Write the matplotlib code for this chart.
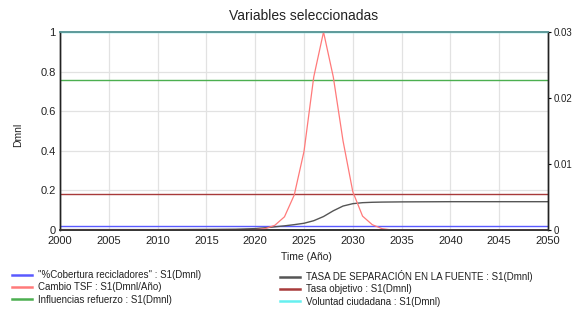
import matplotlib
matplotlib.use("Agg")
import matplotlib.pyplot as plt

plt.rcParams['font.family'] = ['Liberation Sans', 'DejaVu Sans']

# ---- data ----
flat_years = [2000, 2050]
cobertura = [0.02, 0.02]            # "%Cobertura recicladores"
influencias = [0.757, 0.757]        # Influencias refuerzo
tasa_objetivo = [0.182, 0.182]      # Tasa objetivo
voluntad = [1.0, 1.0]               # Voluntad ciudadana

tsf_years = [2000, 2005, 2010, 2015, 2018, 2020, 2021, 2022, 2023, 2024, 2025,
             2026, 2027, 2028, 2029, 2030, 2031, 2032, 2033, 2035, 2040, 2045, 2050]
tasa_sep = [0.002, 0.002, 0.002, 0.003, 0.004, 0.007, 0.011, 0.016, 0.021, 0.027, 0.034,
            0.047, 0.068, 0.097, 0.121, 0.133, 0.138, 0.140, 0.141, 0.142, 0.143, 0.143, 0.143]

cambio_years = [2000, 2010, 2019, 2020, 2021, 2022, 2023, 2024, 2025, 2026, 2027,
                2028, 2029, 2030, 2031, 2032, 2033, 2034, 2040, 2050]
cambio_tsf = [0.0, 0.0, 0.0, 0.00005, 0.0002, 0.0007, 0.0020, 0.0053, 0.0119, 0.0232, 0.0300,
              0.0232, 0.0135, 0.0058, 0.0021, 0.0008, 0.0002, 0.0, 0.0, 0.0]

x_ticks = [2000, 2005, 2010, 2015, 2020, 2025, 2030, 2035, 2040, 2045, 2050]
y_ticks = [0, 0.2, 0.4, 0.6, 0.8, 1]
y_tick_labels = ['0', '0.2', '0.4', '0.6', '0.8', '1']
y2_ticks = [0, 0.01, 0.02, 0.03]
y2_tick_labels = ['0', '0.01', '0.02', '0.03']

labels = ['"%Cobertura recicladores" : S1(Dmnl)',
          'Cambio TSF : S1(Dmnl/Año)',
          'Influencias refuerzo : S1(Dmnl)',
          'TASA DE SEPARACIÓN EN LA FUENTE : S1(Dmnl)',
          'Tasa objetivo : S1(Dmnl)',
          'Voluntad ciudadana : S1(Dmnl)']

c_blue = '#5a5aff'
c_red = '#ff7a7a'
c_green = '#4caf50'
c_black = '#555555'
c_dred = '#a83a3a'
c_cyan = '#66f0f0'

# ---- figure ----
fig = plt.figure(figsize=(5.74, 3.15), dpi=100)
ax = fig.add_axes([60/574, 1-230/315, 488/574, 198/315])
ax2 = ax.twinx()

ax.set_xlim(2000, 2050)
ax.set_ylim(0, 1)
ax2.set_ylim(0, 0.03)

ax.grid(True, color='#e2e2e2', linewidth=0.9)
ax.set_axisbelow(True)

l_blue, = ax.plot(flat_years, cobertura, color=c_blue, lw=1.0)
l_green, = ax.plot(flat_years, influencias, color=c_green, lw=1.0)
l_dred, = ax.plot(flat_years, tasa_objetivo, color=c_dred, lw=1.0)
l_cyan, = ax.plot(flat_years, voluntad, color=c_cyan, lw=1.0, clip_on=False)
l_black, = ax.plot(tsf_years, tasa_sep, color=c_black, lw=1.0)
l_red, = ax2.plot(cambio_years, cambio_tsf, color=c_red, lw=0.9)

ax.set_xticks(x_ticks)
ax.set_xticklabels([str(t) for t in x_ticks], fontsize=8, color='#222222')
ax.set_yticks(y_ticks)
ax.set_yticklabels(y_tick_labels, fontsize=8, color='#222222')
ax2.set_yticks(y2_ticks)
ax2.set_yticklabels(y2_tick_labels, fontsize=7, color='#222222')

ax.tick_params(axis='x', length=0, pad=4)
ax.tick_params(axis='y', length=0, pad=3)
ax2.tick_params(axis='y', length=2.5, width=0.8, pad=1.5)

for a in (ax, ax2):
    a.spines['top'].set_color('#5f9a9a')
    a.spines['top'].set_linewidth(1.2)
    a.spines['left'].set_color('#222222')
    a.spines['right'].set_color('#222222')
    a.spines['bottom'].set_color('#333333')
    a.spines['left'].set_linewidth(1.0)
    a.spines['right'].set_linewidth(1.0)
    a.spines['bottom'].set_linewidth(1.2)

fig.text(304/574, 1-16/315, 'Variables seleccionadas', ha='center', va='center', fontsize=10, color='#222222')
fig.text(18/574, 1-135/315, 'Dmnl', ha='center', va='center', rotation=90, fontsize=7.5, color='#222222')
fig.text(306/574, 1-257/315, 'Time (Año)', ha='center', va='center', fontsize=7.5, color='#222222')

leg_kw = dict(fontsize=7, frameon=False, borderpad=0, borderaxespad=0,
              handlelength=2.1, handletextpad=0.6, labelspacing=0.25, loc='upper left')
leg1 = fig.legend([l_blue, l_red, l_green], labels[:3],
                  bbox_to_anchor=(12/574, 1-270/315), **leg_kw)
leg2 = fig.legend([l_black, l_dred, l_cyan], labels[3:],
                  bbox_to_anchor=(280/574, 1-270/315), **leg_kw)
for leg in (leg1, leg2):
    for h in leg.legend_handles:
        h.set_linewidth(1.8)
    for t in leg.get_texts():
        t.set_color('#222222')

fig.savefig('out.png', dpi=100)
